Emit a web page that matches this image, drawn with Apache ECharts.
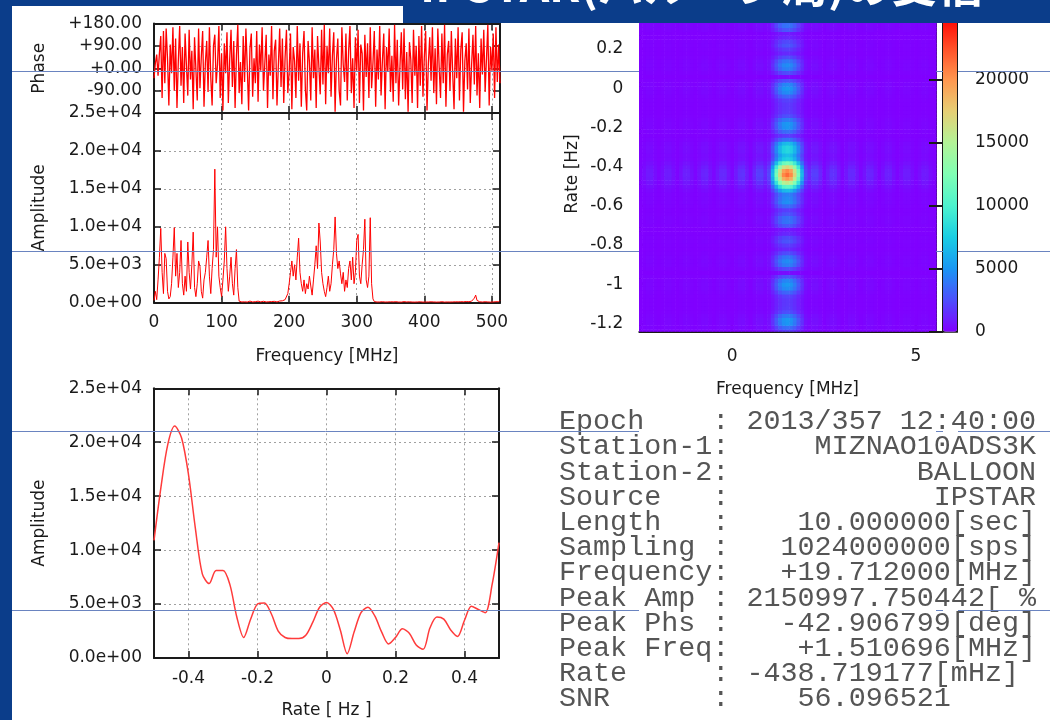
<!DOCTYPE html>
<html><head><meta charset="utf-8">
<script src="https://cdn.jsdelivr.net/npm/echarts@6/dist/echarts.min.js"></script>
<style>html,body{margin:0;padding:0;background:#fff}#c{width:1050px;height:720px}</style>
</head><body><div id="c"></div>
<script>
// ---------------- DATA ----------------
const specStart = 0, specStep = 2; // MHz sample grid of the spectrum panels
const phaseValues = [
-40, 20, 55, -30, 60, 130, -120, 150, -60, 160, 40, -150, 95, -20, 165, -90,
120, -160, 30, 170, -70, 85, -140, 140, 10, -110, 155, -45, 70, -165, 125, -5,
-130, 160, -80, 45, 150, -155, 20, 110, -95, 165, -35, -150, 90, 135, -60, 15,
170, -120, 60, -170, 100, -20, 145, -140, 35, 155, -75, 110, -160, 50, 175, -100,
25, -145, 130, -55, 160, 5, -170, 80, 140, -115, 40, -60, 150, -135, 95, -10,
165, -90, 20, 135, -160, 55, -30, 170, -125, 70, 115, -150, 10, 160, -75, 120,
-140, 45, 155, -100, -15, 140, -165, 85, 30, -120, 170, -50, 100, -155, 60, 150,
-85, -170, 110, 25, -130, 165, -40, 75, -160, 130, 5, -105, 155, -65, 175, -145,
90, -20, 160, -115, 50, 145, -175, 35, 120, -90, -150, 165, 15, -55, 140, -130,
70, 170, -100, 40, -160, 125, -10, 155, -140, 95, 60, -170, 135, -35, 100, -120,
165, -80, 20, 150, -155, 75, -45, 170, -110, 30, 140, -165, 85, -15, 160, -95,
50, -135, 175, -60, 115, -150, 10, 145, -85, 160, -125, 65, -175, 105, 35, -140,
155, -30, 90, -160, 130, -70, 170, -115, 45, 150, -170, 20, 125, -50, 165, -100,
80, -145, 160, 5, -120, 140, -60, 175, -155, 55, 110, -90, 150, -20, -165, 120,
-40, 165, -130, 75, 145, -175, 30, 100, -85, 160, -140, 15, 135, -65, 170, -110,
60, -160, 120, -25, 155, -95, 40, 175, -150, 85, -10, 140, -120, 165, -55, 95,
-60];
const ampValues = [
300,1500,400,3000,6000,9800,4000,1200,6500,5800,1500,500,800,2500,6000,9900,
3500,6500,2000,4000,8200,2500,1000,3500,1500,8000,4000,1800,5000,9300,2000,800,
2500,5500,4800,1500,600,3000,4000,6000,8200,3500,1200,4500,7000,17600,6000,10000,
3500,2000,800,3000,5500,10000,4500,1500,3500,6000,2500,1000,4500,7000,2000,200,
150,100,200,120,180,90,150,210,130,100,170,140,90,200,160,110,150,190,120,100,170,130,200,150,110,180,140,100,160,220,150,250,350,400,
500,1200,2500,4000,5500,3500,5000,3000,6000,8500,4000,2500,1500,3000,1200,2500,
1800,3500,2200,1000,3000,5000,7500,4500,10500,8000,4000,2500,1500,800,2000,3500,
1500,2500,5000,7000,11300,6500,4500,5500,3800,2500,4000,1500,3000,2000,4500,5500,
3000,6000,2500,4000,8200,9000,3500,2500,5000,7000,11000,3000,2000,3500,11200,2500,500,150,
120,90,150,100,80,130,110,90,140,100,70,120,90,110,80,130,
100,90,120,80,110,140,90,100,70,120,100,90,130,80,110,100,
90,120,100,80,130,90,110,100,70,120,90,100,140,80,110,90,
100,130,90,80,120,100,110,90,140,100,80,120,90,110,100,130,
90,120,100,150,110,130,160,200,300,600,1000,300,150,120,100,90,
110,130,90,100,120,80,110,100,90,130,100,120,300];
const rateStart = -0.5, rateStep = 0.02; // Hz
const rateAmp = [10900,15800,19800,21500,20400,17000,12000,7800,6900,8100,8100,6800,3800,1900,3600,5000,5100,4100,2500,1900,1800,1800,2100,3300,4700,5150,4500,2600,400,2400,4200,4700,3900,2400,1300,1900,2700,2300,1200,800,2800,3800,3600,2600,2000,3500,4800,4500,4200,6800,10700];
// amplitude along frequency through the fringe peak row (heatmap columns)
const heatFreqStart = -2.5, heatFreqStep = 0.1;
const heatFreqProfile = [150,400,800,850,450,150,450,900,900,500,150,500,1000,1000,500,150,600,1100,1200,600,200,700,1300,1300,700,200,800,1500,1600,900,300,1200,2000,2000,1200,2200,6500,12000,17000,20500,21500,
20500,17000,12000,6500,2200,1200,2000,2000,1200,300,900,1600,1500,800,200,700,1300,1300,700,200,600,1200,1100,600,150,500,1000,1000,500,150,500,900,900,450,150,450,850,800,400,150];
const heatRateStart = -1.24, heatRateStep = 0.02, heatRateCount = 81;
const heatXTicks = [0, 5];
const heatYTicks = [0.2, 0, -0.2, -0.4, -0.6, -0.8, -1, -1.2];
const infoLines = [
'Epoch    : 2013/357 12:40:00',
'Station-1:     MIZNAO10ADS3K',
'Station-2:           BALLOON',
'Source   :            IPSTAR',
'Length   :    10.000000[sec]',
'Sampling :   1024000000[sps]',
'Frequency:   +19.712000[MHz]',
'Peak Amp : 2150997.750442[ %',
'Peak Phs :   -42.906799[deg]',
'Peak Freq:    +1.510696[MHz]',
'Rate     : -438.719177[mHz]',
'SNR      :    56.096521'];
const titleText = 'IPSTAR(バルーン局)の受信';

// ---------------- BUILD ----------------
const phaseData = phaseValues.map((v, i) => [specStart + i * specStep, v]);
const ampData = ampValues.map((v, i) => [specStart + i * specStep, v]);
const rateData = rateAmp.map((v, i) => [rateStart + i * rateStep, v]);
const peakIdx = heatFreqProfile.indexOf(Math.max(...heatFreqProfile));
const heatData = [];
for (let j = 0; j < heatRateCount; j++) {
  const r = heatRateStart + j * heatRateStep;
  let k = Math.round((r - rateStart) / rateStep);
  k = ((k % (rateAmp.length - 1)) + (rateAmp.length - 1)) % (rateAmp.length - 1);
  for (let i = 0; i < heatFreqProfile.length; i++) {
    const f = heatFreqStart + i * heatFreqStep;
    heatData.push([f, r, heatFreqProfile[i] * rateAmp[k] / heatFreqProfile[peakIdx]]);
  }
}

const INK = '#1a1a1a';
const BLUE = '#0b3d8a';
const FONT = 'DejaVu Sans';
const LBL = {fontFamily: FONT, fontSize: 17, color: INK};
const RAINBOW = ['#8000ff','#4d4ffc','#1a96f3','#1acee3','#4df3ce','#80ffb4','#b3f396','#e6ce74','#ff964f','#ff4f28','#ff0000'];
function expFmt(v) {
  if (v === 0) return '0.0e+00';
  const e = Math.floor(Math.log10(Math.abs(v)) + 1e-9);
  const m = v / Math.pow(10, e);
  return m.toFixed(1) + 'e' + (e < 0 ? '-' : '+') + String(Math.abs(e)).padStart(2, '0');
}
const phaseFmt = v => (v >= 0 ? '+' : '') + v.toFixed(2);
const r1 = v => String(Math.round(v * 10) / 10);
const LINE = {show: true, onZero: false, lineStyle: {color: INK, width: 2}};
const TICK = {show: true, inside: true, length: 7, lineStyle: {color: INK, width: 1.5}};
const SPLIT = {show: true, showMinLine: false, showMaxLine: false, lineStyle: {type: [2, 3], color: '#a0a0a0', width: 1}};
const NOSPLIT = {show: false};

const xAxis = [
  // 0,1 phase
  {gridIndex: 0, type: 'value', position: 'bottom', min: 0, max: 512, interval: 100, axisLine: LINE, axisTick: TICK, axisLabel: {show: false}, splitLine: SPLIT},
  {gridIndex: 0, type: 'value', position: 'top', min: 0, max: 512, interval: 100, axisLine: LINE, axisTick: TICK, axisLabel: {show: false}, splitLine: NOSPLIT},
  // 2,3 amplitude spectrum
  {gridIndex: 1, type: 'value', position: 'bottom', min: 0, max: 512, interval: 100, axisLine: LINE, axisTick: TICK,
   axisLabel: Object.assign({margin: 11, showMaxLabel: false, formatter: v => String(v)}, LBL), splitLine: SPLIT,
   name: 'Frequency [MHz]', nameLocation: 'middle', nameGap: 45, nameTextStyle: LBL},
  {gridIndex: 1, type: 'value', position: 'top', min: 0, max: 512, interval: 100, axisLine: LINE, axisTick: TICK, axisLabel: {show: false}, splitLine: NOSPLIT},
  // 4,5 heatmap
  {gridIndex: 2, type: 'value', position: 'bottom', min: -2.53, max: 5.54, axisLine: LINE,
   axisTick: Object.assign({}, TICK, {customValues: heatXTicks}),
   axisLabel: Object.assign({margin: 16, customValues: heatXTicks, formatter: r1}, LBL), splitLine: NOSPLIT,
   name: 'Frequency [MHz]', nameLocation: 'middle', nameGap: 49, nameTextStyle: LBL},
  {gridIndex: 2, type: 'value', position: 'top', min: -2.53, max: 5.54, axisLine: LINE,
   axisTick: Object.assign({}, TICK, {customValues: heatXTicks}), axisLabel: {show: false}, splitLine: NOSPLIT},
  // 6 colorbar
  {gridIndex: 3, type: 'value', show: false, min: 0, max: 1},
  // 7,8 rate
  {gridIndex: 4, type: 'value', position: 'bottom', min: -0.5, max: 0.5, splitNumber: 5, axisLine: LINE, axisTick: TICK,
   axisLabel: Object.assign({margin: 12, showMinLabel: false, showMaxLabel: false, formatter: r1}, LBL), splitLine: SPLIT,
   name: 'Rate [ Hz ]', nameLocation: 'middle', nameGap: 44, nameTextStyle: LBL},
  {gridIndex: 4, type: 'value', position: 'top', min: -0.5, max: 0.5, splitNumber: 5, axisLine: LINE, axisTick: TICK, axisLabel: {show: false}, splitLine: NOSPLIT}
];
const yAxis = [
  // 0,1 phase
  {gridIndex: 0, type: 'value', position: 'left', min: -180, max: 180, interval: 90, axisLine: LINE, axisTick: TICK,
   axisLabel: Object.assign({margin: 12, showMinLabel: false, formatter: phaseFmt}, LBL), splitLine: SPLIT,
   name: 'Phase', nameLocation: 'middle', nameGap: 106, nameTextStyle: LBL},
  {gridIndex: 0, type: 'value', position: 'right', min: -180, max: 180, interval: 90, axisLine: LINE, axisTick: TICK, axisLabel: {show: false}, splitLine: NOSPLIT},
  // 2,3 amplitude spectrum
  {gridIndex: 1, type: 'value', position: 'left', min: 0, max: 25000, interval: 5000, axisLine: LINE, axisTick: TICK,
   axisLabel: Object.assign({margin: 12, formatter: expFmt}, LBL), splitLine: SPLIT,
   name: 'Amplitude', nameLocation: 'middle', nameGap: 106, nameTextStyle: LBL},
  {gridIndex: 1, type: 'value', position: 'right', min: 0, max: 25000, interval: 5000, axisLine: LINE, axisTick: TICK, axisLabel: {show: false}, splitLine: NOSPLIT},
  // 4,5 heatmap
  {gridIndex: 2, type: 'value', position: 'left', min: -1.243, max: 0.366, axisLine: LINE,
   axisTick: Object.assign({}, TICK, {customValues: heatYTicks}),
   axisLabel: Object.assign({margin: 16, customValues: heatYTicks, formatter: r1}, LBL), splitLine: NOSPLIT,
   name: 'Rate [Hz]', nameLocation: 'middle', nameGap: 58, nameTextStyle: LBL},
  {gridIndex: 2, type: 'value', position: 'right', min: -1.243, max: 0.366, axisLine: LINE,
   axisTick: Object.assign({}, TICK, {customValues: heatYTicks}), axisLabel: {show: false}, splitLine: NOSPLIT},
  // 6 colorbar axis
  {gridIndex: 3, type: 'value', position: 'right', min: 0, max: 25000, interval: 5000, z: 10,
   axisLine: {show: false}, axisTick: {show: true, inside: true, length: 14, lineStyle: {color: INK, width: 2}},
   axisLabel: Object.assign({margin: 18, formatter: v => String(v)}, LBL), splitLine: NOSPLIT},
  // 7,8 rate
  {gridIndex: 4, type: 'value', position: 'left', min: 0, max: 25000, interval: 5000, axisLine: LINE, axisTick: TICK,
   axisLabel: Object.assign({margin: 12, formatter: expFmt}, LBL), splitLine: SPLIT,
   name: 'Amplitude', nameLocation: 'middle', nameGap: 106, nameTextStyle: LBL},
  {gridIndex: 4, type: 'value', position: 'right', min: 0, max: 25000, interval: 5000, axisLine: LINE, axisTick: TICK, axisLabel: {show: false}, splitLine: NOSPLIT}
];

const guideYs = [71.5, 251.5, 431.5, 610.5];
const guideSegs = [[12, 639], [936, 943], [958, 1050]];
const graphic = [
  {type: 'rect', z: 100, shape: {x: 0, y: 0, width: 12, height: 720}, style: {fill: BLUE}},
  {type: 'rect', z: 100, shape: {x: 12, y: 0, width: 391, height: 6}, style: {fill: BLUE}},
  {type: 'rect', z: 100, shape: {x: 403, y: 0, width: 647, height: 23}, style: {fill: BLUE}},
  {type: 'text', z: 101, x: 420, y: 8, style: {text: titleText, fill: '#ffffff', font: 'bold 46px "Noto Sans CJK JP"', verticalAlign: 'bottom'}},
  {type: 'text', z: 50, x: 559, y: 409.1, style: {text: infoLines.join('\n'), fill: '#555', font: '28.4px "Liberation Mono"', lineHeight: 25.2, verticalAlign: 'top'}}
];
guideYs.forEach(y => guideSegs.forEach(s => graphic.push({type: 'line', z: 99, shape: {x1: s[0], y1: y, x2: s[1], y2: y}, style: {stroke: '#6a84c0', lineWidth: 1}})));

const option = {
  animation: false,
  backgroundColor: '#ffffff',
  grid: [
    {left: 154, top: 23.5, width: 346, height: 89.5},
    {left: 154, top: 113, width: 346, height: 189.7},
    {left: 639.3, top: 16.4, width: 296.4, height: 315.3},
    {left: 943, top: 16.4, width: 14, height: 315.3, show: true, borderColor: INK, borderWidth: 2, backgroundColor: 'transparent'},
    {left: 154, top: 388.3, width: 345, height: 271.7}
  ],
  xAxis, yAxis,
  visualMap: [{
    type: 'continuous', min: 0, max: 25000, dimension: 2, seriesIndex: 2,
    inRange: {color: RAINBOW}, calculable: false, hoverLink: false, realtime: false,
    left: 943, top: 16.4, itemWidth: 14, itemHeight: 315.3, padding: 0, text: null, orient: 'vertical'
  }],
  series: [
    {type: 'line', xAxisIndex: 0, yAxisIndex: 0, data: phaseData, showSymbol: false, clip: true,
     lineStyle: {color: '#ff0000', width: 1.3}, itemStyle: {color: '#ff0000'}},
    {type: 'line', xAxisIndex: 2, yAxisIndex: 2, data: ampData, showSymbol: false, clip: true,
     lineStyle: {color: '#ff0000', width: 1}, itemStyle: {color: '#ff0000'}},
    {type: 'custom', xAxisIndex: 4, yAxisIndex: 4, data: heatData, clip: true, progressive: 0,
     encode: {x: 0, y: 1},
     renderItem: function (params, api) {
       const f = api.value(0), r = api.value(1);
       const p0 = api.coord([f - heatFreqStep / 2, r + heatRateStep / 2]);
       const p1 = api.coord([f + heatFreqStep / 2, r - heatRateStep / 2]);
       return {type: 'rect', shape: {x: p0[0], y: p0[1], width: p1[0] - p0[0] + 0.6, height: p1[1] - p0[1] + 0.6},
               style: {fill: api.visual('color')}};
     }},
    {type: 'line', xAxisIndex: 7, yAxisIndex: 7, data: rateData, showSymbol: false, smooth: 0.3, clip: true,
     lineStyle: {color: '#ff3b3b', width: 1.5}, itemStyle: {color: '#ff3b3b'}}
  ],
  graphic
};
const chart = echarts.init(document.getElementById('c'), null, {renderer: 'canvas'});
chart.setOption(option);
</script>
</body></html>
